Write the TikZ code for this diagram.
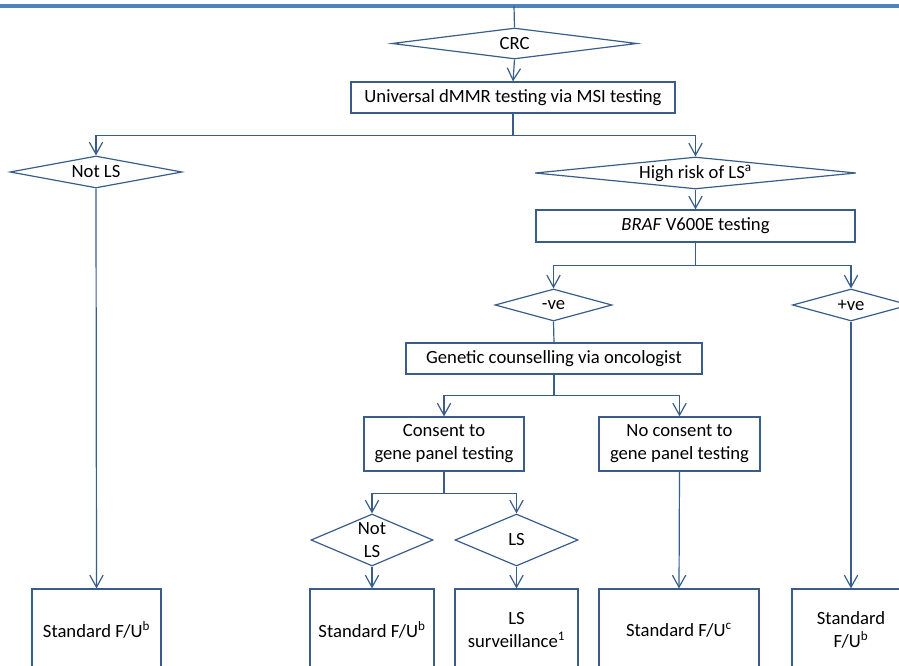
\documentclass[tikz,border=0pt]{standalone}
\usepackage{fontspec}
\setmainfont{Carlito}
\usetikzlibrary{shapes.geometric,arrows.meta}

\definecolor{flowline}{HTML}{385D8A}
\definecolor{topbar}{HTML}{4F81BD}

\tikzset{
  box/.style={draw=flowline, line width=0.9pt, align=center, inner sep=0pt,
    font=\fontsize{14pt}{17.25pt}\selectfont},
  dia/.style={box, shape=diamond},
  con/.style={draw=flowline, line width=0.9pt},
  arr/.style={con, -{Straight Barb[length=9pt,width=10pt]}},
}

\begin{document}
\begin{tikzpicture}[x=0.75pt,y=-0.75pt]
  \useasboundingbox (0,0) rectangle (899,666);
  \clip (0,0) rectangle (899,666);

  % Kopfleiste
  \draw[topbar, line width=2.5pt] (0,6) -- (899,6);
  \coordinate (top) at (514,6);

  % obere Ebene
  \node[dia, minimum width=183.75pt, minimum height=23.25pt, aspect=7.9] (crc) at (514.5,43.5) {CRC};
  \node[box, minimum width=243pt, minimum height=23.25pt] (msi) at (513,97.5) {Universal dMMR testing via MSI testing};
  \node[dia, minimum width=129pt, minimum height=24pt, aspect=5.4] (notls) at (96,172) {Not LS};
  \node[dia, minimum width=240.75pt, minimum height=24pt, aspect=10] (high) at (695.5,173) {High risk of LS\textsuperscript{a}};
  \node[box, minimum width=239.25pt, minimum height=24pt] (braf) at (695.5,226) {\textit{BRAF} V600E testing};

  % BRAF-Ergebnis
  \node[dia, minimum width=87.75pt, minimum height=24pt, aspect=3.66] (neg) at (553.5,305) {-ve};
  \node[dia, minimum width=87.75pt, minimum height=24pt, aspect=3.66] (pos) at (851,305) {+ve};
  \node[box, minimum width=222pt, minimum height=23.25pt] (gc) at (554,358.5) {Genetic counselling via oncologist};
  \node[box, minimum width=120pt, minimum height=40.5pt] (consent) at (444,444) {Consent to\\gene panel testing};
  \node[box, minimum width=120.75pt, minimum height=40.5pt] (nocons) at (679.5,444) {No consent to\\gene panel testing};
  \node[dia, minimum width=91.5pt, minimum height=39pt, aspect=2.35] (notls2) at (372,540) {Not\\LS};
  \node[dia, minimum width=92.25pt, minimum height=39pt, aspect=2.35] (ls) at (516.5,540) {LS};

  % Endknoten
  \node[box, minimum width=96.75pt, minimum height=61.5pt] (endA) at (96.5,630) {Standard F/U\textsuperscript{b}};
  \node[box, minimum width=93pt, minimum height=61.5pt] (endB) at (372,630) {Standard F/U\textsuperscript{b}};
  \node[box, minimum width=92.25pt, minimum height=61.5pt] (endC) at (516.5,630) {LS\\surveillance\textsuperscript{1}};
  \node[box, minimum width=120pt, minimum height=61.5pt] (endD) at (679,630) {Standard F/U\textsuperscript{c}};
  \node[box, minimum width=88.5pt, minimum height=61.5pt] (endE) at (851,630) {Standard\\F/U\textsuperscript{b}};

  % Verbindungen
  \draw[con] (top) -- (crc.north);
  \draw[arr] (crc.south) -- (msi.north);
  \draw[arr] (msi.south) -- ++(0,22) -| (notls.north);
  \draw[arr] (msi.south) -- ++(0,22) -| (high.north);
  \draw[arr] (high.south) -- (braf.north);
  \draw[arr] (braf.south) -- ++(0,23) -| (neg.north);
  \draw[arr] (braf.south) -- ++(0,23) -| (pos.north);
  \draw[con] (neg.south) -- (gc.north);
  \draw[arr] (gc.south) -- ++(0,21) -| (consent.north);
  \draw[arr] (gc.south) -- ++(0,21) -| (nocons.north);
  \draw[arr] (consent.south) -- ++(0,22) -| (notls2.north);
  \draw[arr] (consent.south) -- ++(0,22) -| (ls.north);

  \draw[arr] (notls.south) -- (endA.north);
  \draw[arr] (notls2.south) -- (endB.north);
  \draw[arr] (ls.south) -- (endC.north);
  \draw[arr] (nocons.south) -- (endD.north);
  \draw[arr] (pos.south) -- (endE.north);
\end{tikzpicture}
\end{document}
